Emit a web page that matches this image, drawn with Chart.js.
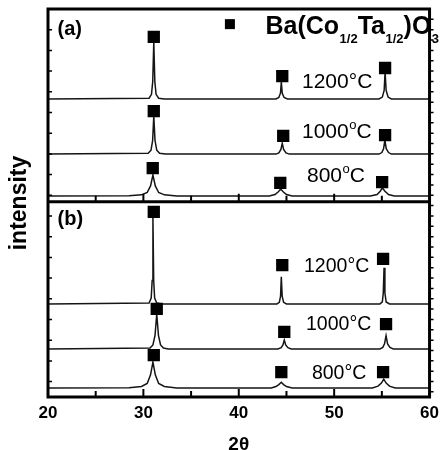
<!DOCTYPE html>
<html>
<head>
<meta charset="utf-8">
<script src="https://cdn.jsdelivr.net/npm/chart.js@4.4.1/dist/chart.umd.min.js"></script>
<style>
  html, body { margin: 0; padding: 0; background: #fff; }
</style>
</head>
<body>
<canvas id="xrd" width="445" height="450"></canvas>
<script>
// x axis
const tickLabels = [20, 30, 40, 50, 60]

// XRD traces, [2theta, intensity above own baseline] (a.u.)
const a1200 = [[20,0],[30.6,0.2],[30.85,1.2],[30.98,4.5],[31.09,14.7],[31.2,4.5],[31.33,1.2],[31.6,0.2],[32.2,0],
  [43.9,0],[44.2,0.4],[44.37,1.5],[44.46,4.4],[44.56,1.5],[44.75,0.4],[45.1,0],
  [54.7,0],[55.05,0.5],[55.24,2.2],[55.34,7.0],[55.45,2.2],[55.65,0.5],[56.0,0],[60,0]]
const a1000 = [[20,0],[30.5,0.2],[30.8,1.0],[30.97,3.5],[31.09,9.8],[31.22,3.5],[31.4,1.0],[31.7,0.2],[32.3,0],
  [43.9,0],[44.2,0.3],[44.42,1.2],[44.56,2.8],[44.7,1.2],[44.95,0.3],[45.3,0],
  [54.7,0],[55.0,0.4],[55.18,1.4],[55.32,3.6],[55.46,1.4],[55.7,0.4],[56.0,0],[60,0]]
const a800 = [[20,0],[28.5,0.1],[29.8,0.3],[30.4,0.9],[30.75,2.6],[31.0,5.4],[31.25,2.6],[31.6,0.9],[32.2,0.3],[33.5,0],
  [43.2,0],[43.8,0.4],[44.15,1.1],[44.4,1.8],[44.65,1.1],[45.0,0.4],[45.6,0],
  [53.8,0],[54.5,0.4],[54.85,1.3],[55.05,2.1],[55.3,1.3],[55.7,0.4],[56.3,0],[60,0]]
const b1200 = [[20,0],[30.6,0.2],[30.82,1.5],[30.92,6],[31.0,22.4],[31.08,6],[31.18,1.5],[31.4,0.2],[32,0],
  [44.0,0],[44.25,0.4],[44.38,2.0],[44.46,7.0],[44.55,2.0],[44.7,0.4],[45.0,0],
  [54.8,0],[55.05,0.5],[55.15,2.8],[55.23,9.3],[55.32,2.8],[55.45,0.5],[55.8,0],[60,0]]
const b1000 = [[20,0],[30.7,0.2],[31.0,1.0],[31.22,3.5],[31.4,9.0],[31.58,3.5],[31.8,1.0],[32.1,0.2],[32.6,0],
  [44.1,0],[44.45,0.3],[44.63,1.0],[44.77,2.3],[44.92,1.0],[45.15,0.3],[45.5,0],
  [54.8,0],[55.1,0.4],[55.28,1.3],[55.44,3.4],[55.6,1.3],[55.85,0.4],[56.2,0],[60,0]]
const b800 = [[20,0],[28.5,0.1],[29.8,0.4],[30.4,1.2],[30.75,3.4],[31.0,6.7],[31.25,3.4],[31.6,1.2],[32.2,0.4],[33.5,0],
  [43.4,0],[43.9,0.4],[44.2,0.9],[44.46,1.5],[44.7,0.9],[45.0,0.4],[45.6,0],
  [54.0,0],[54.6,0.5],[54.95,1.3],[55.2,2.3],[55.45,1.3],[55.8,0.5],[56.4,0],[60,0]]

// Ba(Co1/2Ta1/2)O3 reflections marked on each trace
const a1200Marks = [[31.09,16.0],[44.56,5.9],[55.34,8.0]]
const a1000Marks = [[31.09,11.1],[44.66,4.7],[55.34,4.9]]
const a800Marks = [[30.98,7.2],[44.35,3.4],[55.03,3.6]]
const b1200Marks = [[31.09,23.7],[44.56,10.0],[55.13,11.6]]
const b1000Marks = [[31.40,10.3],[44.77,4.4],[55.44,6.4]]
const b800Marks = [[31.09,8.5],[44.46,4.1],[55.13,4.1]]

// stacking of the traces in the plot (y units)
const stack = {
  a1200: 76.8, a1000: 62.6, a800: 51.8,
  b1200: 24.0, b1000: 12.4, b800: 2.3
}
const panelSplit = 50.3

const traces = { a1200, a1000, a800, b1200, b1000, b800 }
const marks = { a1200: a1200Marks, a1000: a1000Marks, a800: a800Marks,
  b1200: b1200Marks, b1000: b1000Marks, b800: b800Marks }

const FONT = '"Liberation Sans", Arial, sans-serif'

const toXY = (arr, off) => arr.map(p => ({ x: p[0], y: p[1] + off }))

const datasets = []
let markPts = []
Object.keys(traces).forEach(k => {
  datasets.push({
    type: "line",
    data: toXY(traces[k], stack[k]),
    borderColor: "#151515",
    borderWidth: 1.5,
    pointRadius: 0,
    tension: 0,
    order: 2
  })
  markPts = markPts.concat(toXY(marks[k], stack[k]))
})
datasets.push({
  type: "scatter",
  data: markPts,
  pointStyle: "rect",
  pointRadius: 8.7,
  pointBorderWidth: 0,
  backgroundColor: "#000",
  order: 0
})

// text annotations, anchored in data coordinates
const tempLabels = [
  { x: 46.63, y: 79.6, t: "1200", deg: "°", size: 21 },
  { x: 46.63, y: 66.8, t: "1000", deg: "o", size: 21 },
  { x: 47.15, y: 55.4, t: "800", deg: "o", size: 21 },
  { x: 46.84, y: 32.2, t: "1200", deg: "°", size: 19.5 },
  { x: 47.05, y: 17.3, t: "1000", deg: "°", size: 19.5 },
  { x: 47.67, y: 4.6, t: "800", deg: "°", size: 19.5 }
]

const decor = {
  id: "decor",
  afterDatasetsDraw(chart) {
    const { ctx, scales: { x, y } } = chart
    ctx.save()
    ctx.fillStyle = "#000"
    ctx.textBaseline = "alphabetic"
    ctx.textAlign = "left"

    // panel letters
    ctx.font = "bold 20px " + FONT
    ctx.fillText("(a)", x.getPixelForValue(21.0), y.getPixelForValue(93.3))
    ctx.fillText("(b)", x.getPixelForValue(21.0), y.getPixelForValue(44.3))

    // legend
    const lx = x.getPixelForValue(39.07), ly = y.getPixelForValue(96.1)
    ctx.fillRect(lx - 5, ly - 5, 10, 10)
    let px = x.getPixelForValue(42.8)
    const base = y.getPixelForValue(93.6)
    const parts = [["Ba(Co", 0], ["1/2", 1], ["Ta", 0], ["1/2", 1], [")O", 0], ["3", 1]]
    parts.forEach(([s, sub]) => {
      ctx.font = sub ? "bold 13px " + FONT : "bold 25px " + FONT
      ctx.fillText(s, px, sub ? base + 9 : base)
      px += ctx.measureText(s).width + (sub ? 0 : 0.5)
    })

    // temperature labels
    tempLabels.forEach(l => {
      let lpx = x.getPixelForValue(l.x)
      const lpy = y.getPixelForValue(l.y)
      ctx.font = l.size + "px " + FONT
      ctx.fillText(l.t, lpx, lpy)
      lpx += ctx.measureText(l.t).width
      if (l.deg === "o") {
        ctx.font = Math.round(l.size * 0.6) + "px " + FONT
        ctx.fillText("o", lpx + 0.5, lpy - l.size * 0.42)
        lpx += ctx.measureText("o").width + 0.5
        ctx.font = l.size + "px " + FONT
      } else {
        ctx.fillText("°", lpx, lpy)
        lpx += ctx.measureText("°").width
      }
      ctx.fillText("C", lpx, lpy)
    })
    ctx.restore()
  },
  afterDraw(chart) {
    const { ctx, chartArea: a, scales: { x, y } } = chart
    ctx.save()
    ctx.strokeStyle = "#000"
    ctx.lineWidth = 3
    ctx.strokeRect(a.left, a.top, a.right - a.left, a.bottom - a.top)
    const ys = y.getPixelForValue(panelSplit)
    ctx.beginPath()
    ctx.moveTo(a.left, ys)
    ctx.lineTo(a.right, ys)
    ctx.stroke()

    // x ticks, pointing into each panel
    ctx.lineWidth = 2
    ctx.beginPath()
    for (let v = 25; v < 60; v += 5) {
      const p = x.getPixelForValue(v)
      const len = v % 10 === 0 ? 8 : 6
      ctx.moveTo(p, a.bottom); ctx.lineTo(p, a.bottom - len)
      ctx.moveTo(p, ys); ctx.lineTo(p, ys - len)
    }
    ctx.stroke()

    // y ticks: left inside, right outside
    ctx.lineWidth = 1.5
    ctx.beginPath()
    for (let v = 100 - 5.335; v > 1; v -= 5.335) {
      const p = y.getPixelForValue(v)
      ctx.moveTo(a.left, p); ctx.lineTo(a.left + 4, p)
    }
    for (let v = 100 - 2.667; v > 1; v -= 2.667) {
      const p = y.getPixelForValue(v)
      ctx.moveTo(a.right, p); ctx.lineTo(a.right + 4, p)
    }
    ctx.stroke()
    ctx.restore()
  }
}

new Chart(document.getElementById("xrd"), {
  data: { datasets: datasets },
  options: {
    responsive: false,
    animation: false,
    devicePixelRatio: 1,
    layout: { padding: { top: 9, right: 10, left: 0, bottom: 0 } },
    plugins: { legend: { display: false }, tooltip: { enabled: false } },
    scales: {
      x: {
        type: "linear",
        min: 20,
        max: 60,
        afterBuildTicks: s => { s.ticks = tickLabels.map(v => ({ value: v })) },
        afterFit: s => { s.height = 53 },
        grid: { display: false, drawTicks: false },
        border: { display: false },
        ticks: { color: "#000", padding: 6, maxRotation: 0, font: { family: FONT, size: 17, weight: "bold" } },
        title: {
          display: true,
          text: "2θ",
          color: "#000",
          padding: 0,
          font: { family: FONT, size: 19, weight: "bold", lineHeight: 0.5 }
        }
      },
      y: {
        type: "linear",
        min: 0,
        max: 100,
        afterFit: s => { s.width = 48 },
        grid: { display: false, drawTicks: false },
        border: { display: false },
        ticks: { display: false },
        title: {
          display: true,
          text: "intensity",
          color: "#000",
          padding: { top: 6 },
          font: { family: FONT, size: 23, weight: "bold" }
        }
      }
    }
  },
  plugins: [decor]
})
</script>
</body>
</html>
